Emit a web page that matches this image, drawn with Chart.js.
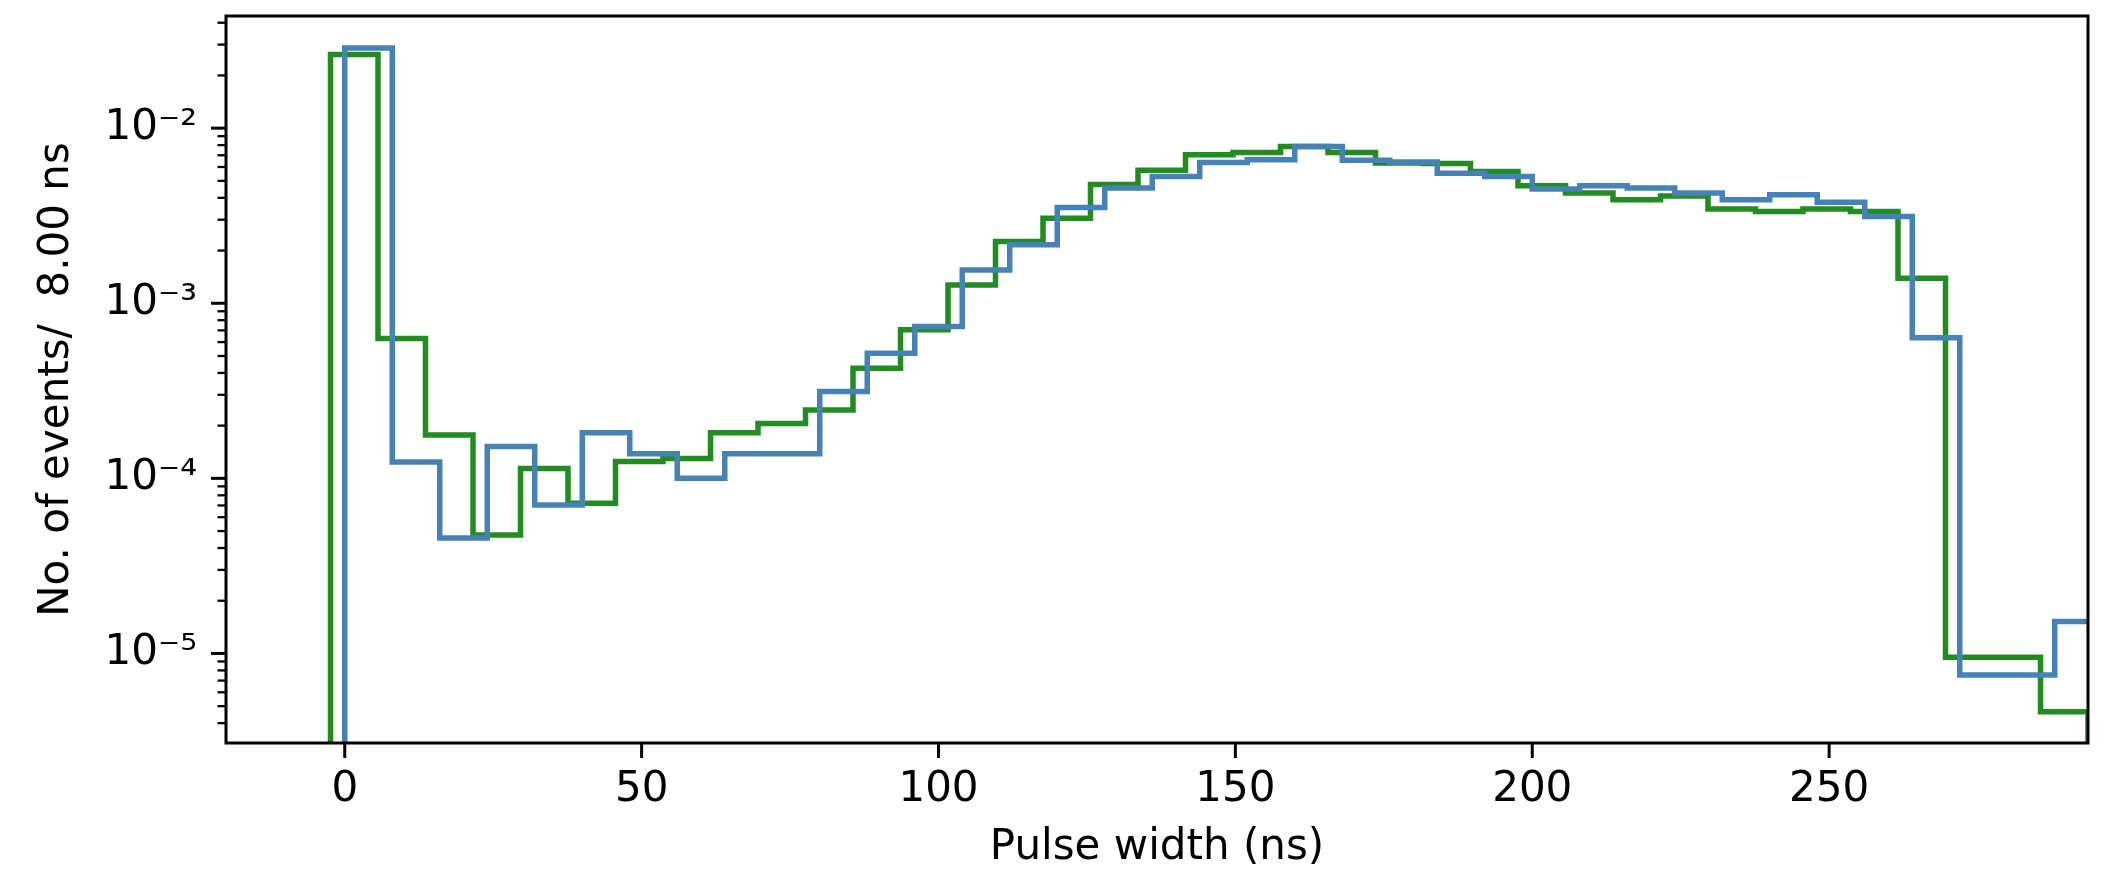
<!DOCTYPE html>
<html>
<head>
<meta charset="utf-8">
<script src="https://cdn.jsdelivr.net/npm/chart.js@4.4.1/dist/chart.umd.min.js"></script>
<style>
  body { margin: 0; background: #fff; }
</style>
</head>
<body>
<canvas id="chart" width="2105" height="873"></canvas>
<script>
// histogram binning (ns per bin, first edge of each series)
const binWidth = 8;
const greenStart = -2.4;
const blueStart = 0;

// normalised counts per 8 ns bin
const greenCounts = [
  0.0263, 6.3e-4, 1.77e-4, 4.74e-5, 1.14e-4, 7.2e-5, 1.25e-4, 1.3e-4,
  1.82e-4, 2.06e-4, 2.46e-4, 4.25e-4, 7.05e-4, 1.27e-3, 2.25e-3, 3.06e-3,
  4.76e-3, 5.74e-3, 7.05e-3, 7.26e-3, 7.86e-3, 7.26e-3, 6.32e-3, 6.28e-3,
  5.66e-3, 4.69e-3, 4.26e-3, 3.9e-3, 4.1e-3, 3.45e-3, 3.34e-3, 3.45e-3,
  3.34e-3, 1.39e-3, 9.5e-6, 9.5e-6, 4.65e-6
];
const blueCounts = [
  0.0287, 1.24e-4, 4.57e-5, 1.52e-4, 7.05e-5, 1.82e-4, 1.38e-4, 1.0e-4,
  1.38e-4, 1.38e-4, 3.13e-4, 5.18e-4, 7.36e-4, 1.55e-3, 2.16e-3, 3.52e-3,
  4.55e-3, 5.3e-3, 6.37e-3, 6.6e-3, 7.86e-3, 6.55e-3, 6.4e-3, 5.53e-3,
  5.3e-3, 4.49e-3, 4.69e-3, 4.55e-3, 4.26e-3, 3.9e-3, 4.16e-3, 3.77e-3,
  3.13e-3, 6.35e-4, 7.54e-6, 7.54e-6, 1.52e-5
];

const xTicks = [0, 50, 100, 150, 200, 250];
const yMajorTicks = [1e-5, 1e-4, 1e-3, 1e-2];
const yTickLabels = ['10⁻⁵', '10⁻⁴', '10⁻³', '10⁻²'];
const xTitle = 'Pulse width (ns)';
const yTitle = 'No. of events/  8.00 ns';

const X_MIN = -20;
const X_MAX = greenStart + greenCounts.length * binWidth;
const Y_MIN = 3.08e-6;
const Y_MAX = 0.0437;
const FLOOR = 1e-9; // below the axis, gets clipped like matplotlib's step start

// outline of a step histogram: up from the floor, across each bin, back down
function stepPoints(start, counts) {
  const pts = [{ x: start, y: FLOOR }];
  counts.forEach((v, i) => pts.push({ x: start + i * binWidth, y: v }));
  const end = start + counts.length * binWidth;
  pts.push({ x: end, y: counts[counts.length - 1] });
  pts.push({ x: end, y: FLOOR });
  return pts;
}

// minor log ticks 2..9 x 10^n inside the range
const yMinorTicks = [];
for (let e = -6; e <= -2; e++) {
  for (let m = 2; m <= 9; m++) {
    const v = m * Math.pow(10, e);
    if (v > Y_MIN && v < Y_MAX) yMinorTicks.push(v);
  }
}

const FONT = "'DejaVu Sans', sans-serif";
const INK = '#000000';

const frame = {
  id: 'frame',
  afterDatasetsDraw(chart) {
    const ctx = chart.ctx;
    const a = chart.chartArea;
    const xs = chart.scales.x;
    const ys = chart.scales.y;
    ctx.save();
    ctx.strokeStyle = INK;
    ctx.lineCap = 'butt';
    // x ticks (major only)
    ctx.lineWidth = 3;
    xTicks.forEach((t) => {
      const px = xs.getPixelForValue(t);
      ctx.beginPath();
      ctx.moveTo(px, a.bottom);
      ctx.lineTo(px, a.bottom + 15);
      ctx.stroke();
    });
    // y ticks
    yMajorTicks.forEach((t) => {
      const py = ys.getPixelForValue(t);
      ctx.beginPath();
      ctx.moveTo(a.left, py);
      ctx.lineTo(a.left - 15, py);
      ctx.stroke();
    });
    ctx.lineWidth = 2.3;
    yMinorTicks.forEach((t) => {
      const py = ys.getPixelForValue(t);
      ctx.beginPath();
      ctx.moveTo(a.left, py);
      ctx.lineTo(a.left - 8.5, py);
      ctx.stroke();
    });
    // spines
    ctx.lineWidth = 3;
    ctx.strokeRect(a.left, a.top, a.right - a.left, a.bottom - a.top);
    ctx.restore();
  }
};

new Chart(document.getElementById('chart'), {
  type: 'line',
  data: {
    datasets: [
      {
        data: stepPoints(greenStart, greenCounts),
        borderColor: '#228b22',
        order: 1
      },
      {
        data: stepPoints(blueStart, blueCounts),
        borderColor: '#4682b4',
        order: 0
      }
    ]
  },
  options: {
    responsive: false,
    animation: false,
    devicePixelRatio: 1,
    layout: { padding: { top: 16, right: 17, left: 0, bottom: 0 } },
    elements: {
      line: { borderWidth: 5.5, stepped: true, tension: 0, fill: false, borderJoinStyle: 'miter' },
      point: { radius: 0, hoverRadius: 0 }
    },
    datasets: { line: { clip: 0 } },
    plugins: { legend: { display: false }, tooltip: { enabled: false } },
    scales: {
      x: {
        type: 'linear',
        min: X_MIN,
        max: X_MAX,
        afterBuildTicks: (s) => { s.ticks = xTicks.map((v) => ({ value: v })); },
        afterFit: (s) => { s.height = 130; s.paddingLeft = 0; s.paddingRight = 0; },
        grid: { display: false, drawTicks: false },
        border: { display: false },
        ticks: {
          autoSkip: false,
          maxRotation: 0,
          padding: 22,
          color: INK,
          font: { family: FONT, size: 42 },
          callback: (v) => String(v)
        },
        title: {
          display: true,
          text: xTitle,
          color: INK,
          font: { family: FONT, size: 42 },
          padding: { top: 0, bottom: 0 }
        }
      },
      y: {
        type: 'logarithmic',
        min: Y_MIN,
        max: Y_MAX,
        afterBuildTicks: (s) => { s.ticks = yMajorTicks.map((v) => ({ value: v, major: true })); },
        afterFit: (s) => { s.width = 226; s.paddingTop = 0; s.paddingBottom = 0; },
        grid: { display: false, drawTicks: false },
        border: { display: false },
        ticks: {
          autoSkip: false,
          padding: 29,
          color: INK,
          font: { family: FONT, size: 42 },
          callback: (v) => {
            const i = yMajorTicks.findIndex((m) => Math.abs(m - v) / m < 1e-6);
            return i >= 0 ? yTickLabels[i] : '';
          }
        },
        title: {
          display: true,
          text: yTitle,
          color: INK,
          font: { family: FONT, size: 42 },
          padding: { top: 32, bottom: 0 }
        }
      }
    }
  },
  plugins: [frame]
});
</script>
</body>
</html>
